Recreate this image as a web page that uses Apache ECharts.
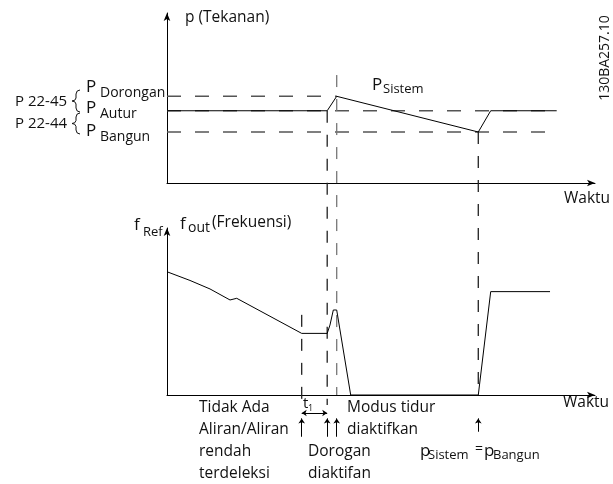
<!DOCTYPE html>
<html>
<head>
<meta charset="utf-8">
<script src="https://cdn.jsdelivr.net/npm/echarts@6/dist/echarts.min.js"></script>
<style>
  html, body { margin: 0; padding: 0; background: #fff; }
  #chart { width: 613px; height: 484px; }
</style>
</head>
<body>
<div id="chart"></div>
<script>
// pressure levels (Dorongan, Autur, Bangun)
const levelNames = ['Dorongan', 'Autur', 'Bangun']
const pressureLevels = [5.1, 4.25, 3.0]
const levelEnds = [39.65, 91.05, 91.05]

// system pressure over time
const pTime = [0, 37.43, 39.65, 72.73, 75.63, 91.05]
const pValue = [4.25, 4.25, 5.1, 3.0, 4.25, 4.25]

// output frequency over time
const fTime = [0, 5.37, 10.05, 14.72, 16.29, 31.47, 37.43, 38.08, 38.86, 39.65, 42.92, 72.73, 75.63, 89.49]
const fValue = [7.38, 6.86, 6.35, 5.69, 5.79, 3.69, 3.69, 4.19, 5.09, 5.09, 0, 0, 6.19, 6.19]

// event times: low flow detected, boost on, sleep on, wake up
const eventTime = [31.47, 37.43, 39.65, 72.73]

const FONT = 'Open Sans'
const chart = echarts.init(document.getElementById('chart'))

const axisLine = {
  show: true,
  symbol: ['none', 'arrow'],
  symbolSize: [5, 8],
  lineStyle: { color: '#000', width: 1 }
}
const plainAxis = (grid, isX) => ({
  gridIndex: grid,
  type: 'value',
  min: 0,
  max: isX ? 100 : 10,
  axisLine: axisLine,
  axisTick: { show: false },
  axisLabel: { show: false },
  splitLine: { show: false }
})

const pairs = (xs, ys) => xs.map((x, i) => [x, ys[i]])

const series = []

// dashed reference levels
pressureLevels.forEach((v, i) => {
  series.push({
    type: 'line', xAxisIndex: 0, yAxisIndex: 0, symbol: 'none', silent: true,
    data: [[0, v], [levelEnds[i], v]],
    lineStyle: { color: '#555', width: 1.5, type: [14, 14] }
  })
})

// vertical dashed event lines (top grid, drawn through into the lower panel)
const vSpan = [
  [eventTime[1], 4.25, -13.06, '#222'],
  [eventTime[2], 6.35, -12.47, '#777'],
  [eventTime[3], 3.0, -12.47, '#222']
]
vSpan.forEach(s => {
  series.push({
    type: 'line', xAxisIndex: 0, yAxisIndex: 0, symbol: 'none', silent: true, clip: false,
    data: [[s[0], s[1]], [s[0], s[2]]],
    lineStyle: { color: s[3], width: 1.3, type: [12, 12] }
  })
})
series.push({
  type: 'line', xAxisIndex: 1, yAxisIndex: 1, symbol: 'none', silent: true, clip: false,
  data: [[eventTime[0], 4.8], [eventTime[0], -0.6]],
  lineStyle: { color: '#222', width: 1.3, type: [12, 12] }
})

// system pressure
series.push({
  type: 'line', xAxisIndex: 0, yAxisIndex: 0, symbol: 'none', silent: true,
  data: pairs(pTime, pValue),
  lineStyle: { color: '#000', width: 1 }
})

// output frequency
series.push({
  type: 'line', xAxisIndex: 1, yAxisIndex: 1, symbol: 'none', silent: true, clip: false,
  data: pairs(fTime, fValue),
  lineStyle: { color: '#000', width: 1 }
})

// up arrows under the time axis
const arrowLow = [-2.5, -2.5, -2.5, -2.2]
series.push({
  type: 'lines', coordinateSystem: 'cartesian2d', xAxisIndex: 1, yAxisIndex: 1,
  silent: true, clip: false,
  symbol: ['none', 'arrow'], symbolSize: 5,
  lineStyle: { color: '#000', width: 1, opacity: 1 },
  data: eventTime.map((t, i) => ({ coords: [[t, arrowLow[i]], [t, -1.4]] }))
})
// t1 double arrow
series.push({
  type: 'lines', coordinateSystem: 'cartesian2d', xAxisIndex: 1, yAxisIndex: 1,
  silent: true, clip: false,
  symbol: ['arrow', 'arrow'], symbolSize: 5,
  lineStyle: { color: '#000', width: 1, opacity: 1 },
  data: [{ coords: [[eventTime[0], -1.08], [eventTime[1], -1.08]] }]
})

const txt = (x, y, text, size, extra) => Object.assign({
  type: 'text', x: x, y: y, silent: true,
  style: { text: text, fontSize: size, fontFamily: FONT, fill: '#111', verticalAlign: 'middle', align: 'left' }
}, extra || {})

// curly brace as a thin polyline, top y0 to bottom y1, tip at left
const brace = (x, y0, y1) => {
  const m = (y0 + y1) / 2
  return {
    type: 'polyline', silent: true,
    shape: {
      points: [
        [x + 4, y0], [x + 1.2, y0 + 1], [x, y0 + 4], [x, m - 3], [x - 1.2, m - 0.8], [x - 4, m],
        [x - 1.2, m + 0.8], [x, m + 3], [x, y1 - 4], [x + 1.2, y1 - 1], [x + 4, y1]
      ]
    },
    style: { stroke: '#111', fill: null, lineWidth: 1 }
  }
}

const graphics = [
  txt(185, 18, 'p (Tekanan)', 15.5),
  txt(15, 102, 'P 22-45', 15),
  txt(15, 124, 'P 22-44', 15),
  brace(76, 90, 112),
  brace(76, 113, 134),
  txt(372, 85, 'P', 17),
  txt(383, 89, 'Sistem', 13),
  txt(605, 58, '130BA257.10', 14, { rotation: Math.PI / 2, style: { text: '130BA257.10', fontSize: 14, fontFamily: FONT, fill: '#111', verticalAlign: 'middle', align: 'center' } }),
  txt(564, 199, 'Waktu', 15.5),
  txt(563, 403, 'Waktu', 15.5),
  txt(134, 225, 'f', 17),
  txt(143, 232, 'Ref', 13),
  txt(180, 224, 'f', 17),
  txt(188, 228, 'out', 14),
  txt(212, 223, '(Frekuensi)', 15.5),
  txt(199, 408, 'Tidak Ada', 15.5),
  txt(199, 430, 'Aliran/Aliran', 15.5),
  txt(199, 452, 'rendah', 15.5),
  txt(199, 474, 'terdeleksi', 15.5),
  txt(347, 408, 'Modus tidur', 15.5),
  txt(347, 430, 'diaktifkan', 15.5),
  txt(308, 452, 'Dorogan', 15.5),
  txt(308, 474, 'diaktifan', 15.5),
  txt(303, 404, 't', 15),
  txt(308, 408, '1', 9),
  txt(420, 451, 'p', 17),
  txt(428, 455, 'Sistem', 13),
  txt(475, 449, '=', 14),
  txt(484, 451, 'p', 17),
  txt(493, 455, 'Bangun', 13)
]
// P labels with subscripts for the levels
const pY = [87, 108, 131]
levelNames.forEach((n, i) => {
  graphics.push(txt(86, pY[i], 'P', 17))
  graphics.push(txt(100, pY[i] + 6, n, 14))
})

chart.setOption({
  animation: false,
  backgroundColor: '#fff',
  grid: [
    { left: 167, top: 13, width: 428, height: 170 },
    { left: 167, top: 228, width: 428, height: 167 }
  ],
  xAxis: [plainAxis(0, true), plainAxis(1, true)],
  yAxis: [plainAxis(0, false), plainAxis(1, false)],
  series: series,
  graphic: { elements: graphics }
})
</script>
</body>
</html>
